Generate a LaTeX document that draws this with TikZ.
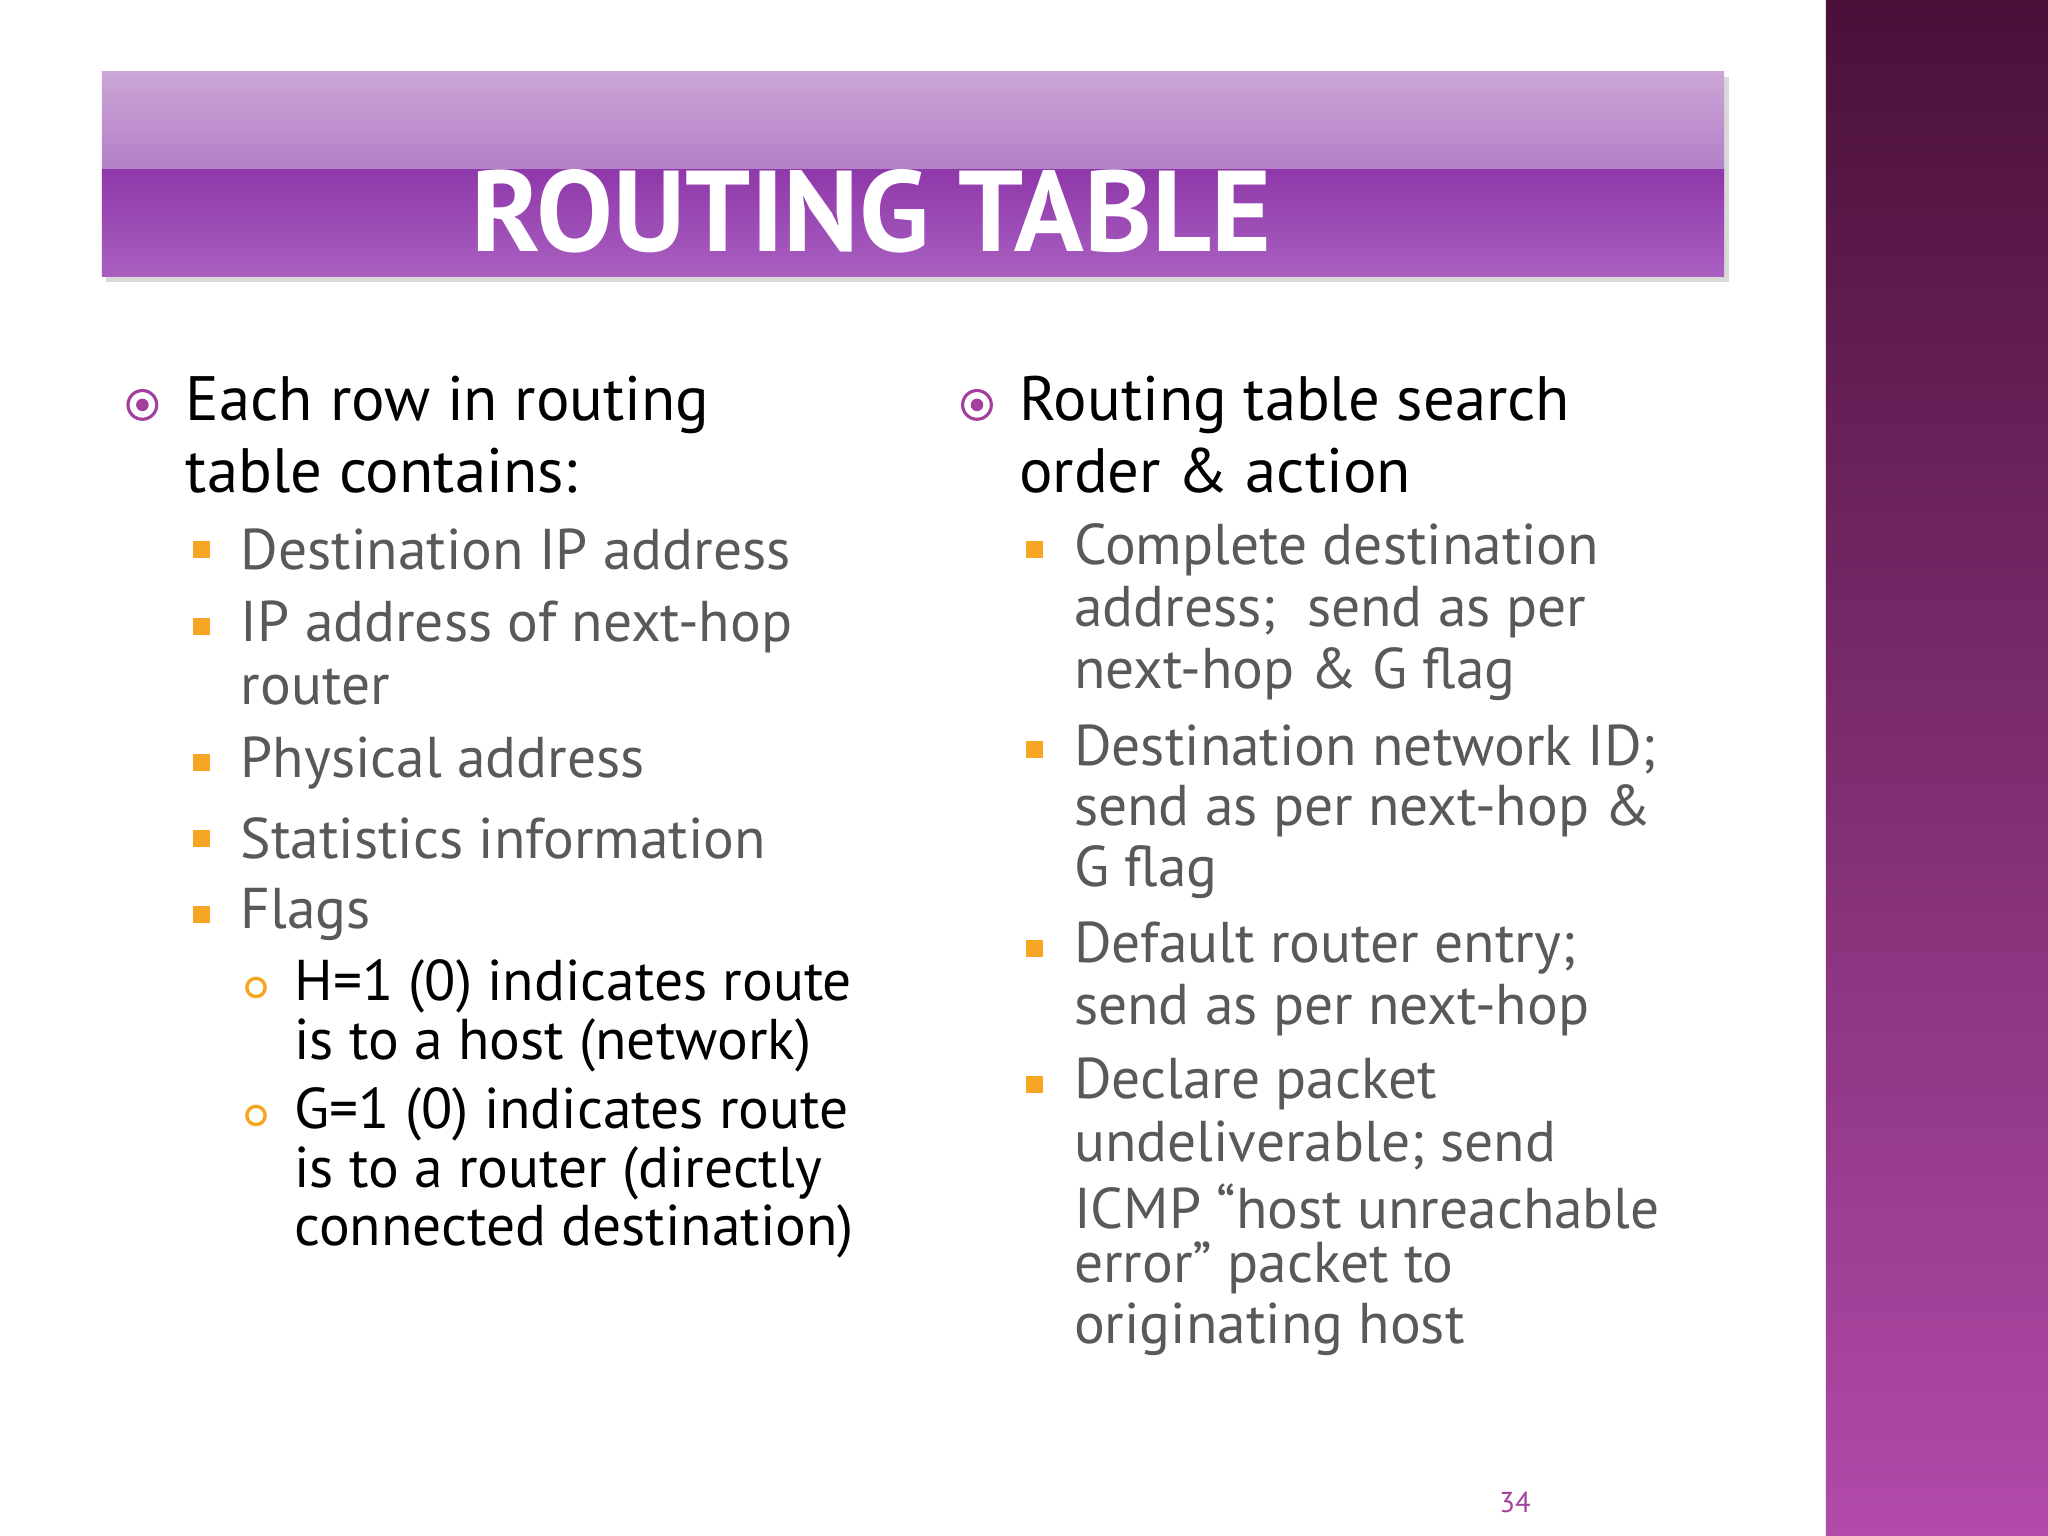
\documentclass[tikz,border=0pt]{standalone}
\usepackage{fontspec}
\setmainfont{PT Sans}
\definecolor{bandtop}{HTML}{4A1038}
\definecolor{bandbot}{HTML}{B24AAA}
\definecolor{bulmag}{HTML}{A3409E}
\definecolor{bartop}{HTML}{CBA6D6}
\definecolor{barmid}{HTML}{B47FC8}
\definecolor{barlow}{HTML}{8F38AA}
\definecolor{barbot}{HTML}{A95FC0}
\definecolor{sqor}{HTML}{F6A623}
\definecolor{txgray}{HTML}{595959}
\begin{document}
\begin{tikzpicture}[x=0.5pt,y=-0.5pt,
  lone/.style={anchor=west,inner sep=0pt,font=\fontsize{24}{27}\selectfont,text=black},
  ltwo/.style={anchor=west,inner sep=0pt,font=\fontsize{22}{25}\selectfont,text=txgray},
  lthree/.style={anchor=west,inner sep=0pt,font=\fontsize{22}{25}\selectfont,text=black},
  bone/.style={circle,draw=bulmag,line width=1.2pt,minimum size=11pt,inner sep=0pt,
    path picture={\fill[bulmag] (path picture bounding box.center) circle (2.4pt);}},
  btwo/.style={fill=sqor,minimum size=6.5pt,inner sep=0pt},
  bthree/.style={circle,draw=sqor,line width=1.3pt,minimum size=7pt,inner sep=0pt}]
\useasboundingbox (0,0) rectangle (1568,1176);
\fill[white] (0,0) rectangle (1568,1176);
\shade[top color=bandtop, bottom color=bandbot] (1398,0) rectangle (1568,1176);
\fill[black!15] (81,59) rectangle (1324,216);
\shade[top color=bartop, bottom color=barmid] (78,55) rectangle (1320,130);
\shade[top color=barlow, bottom color=barbot] (78,130) rectangle (1320,212);
\node[inner sep=0pt,text=white,font=\fontsize{44}{50}\bfseries\selectfont] (title) at (667,162) {ROUTING TABLE};
% left
\node[bone] (b1) at (109,310) {};
\node[lone] (l1) at (142,310) {Each row in routing};
\node[lone] (l2) at (142,360) {table contains:};
\node[btwo] (s1) at (154,421) {}; \node[ltwo] (t1) at (184,421) {Destination IP address};
\node[btwo] (s2) at (154,480) {}; \node[ltwo] (t2) at (184,480) {IP address of next-hop};
\node[ltwo] (t3) at (184,526) {router};
\node[btwo] (s3) at (154,584) {}; \node[ltwo] (t4) at (184,584) {Physical address};
\node[btwo] (s4) at (154,642) {}; \node[ltwo] (t5) at (184,642) {Statistics information};
\node[btwo] (s5) at (154,700) {}; \node[ltwo] (t6) at (184,700) {Flags};
\node[bthree] (c1) at (196,756) {}; \node[lthree] (u1) at (225,755) {H=1 (0) indicates route};
\node[lthree] (u2) at (225,800) {is to a host (network)};
\node[bthree] (c2) at (196,854) {}; \node[lthree] (u3) at (225,853) {G=1 (0) indicates route};
\node[lthree] (u4) at (225,898) {is to a router (directly};
\node[lthree] (u5) at (225,943) {connected destination)};
% right
\node[bone] (b2) at (748,310) {};
\node[lone] (r1) at (780,310) {Routing table search};
\node[lone] (r2) at (780,360) {order \& action};
\node[btwo] (q1) at (792,421) {};
\node[ltwo] (v1) at (822,421) {Complete destination};
\node[ltwo] (v2) at (822,469) {address;\ \ send as per};
\node[ltwo] (v3) at (822,516) {next-hop \& G flag};
\node[btwo] (q2) at (792,574) {};
\node[ltwo] (v4) at (822,574) {Destination network ID;};
\node[ltwo] (v5) at (822,621) {send as per next-hop \&};
\node[ltwo] (v6) at (822,668) {G flag};
\node[btwo] (q3) at (792,726) {};
\node[ltwo] (v7) at (822,726) {Default router entry;};
\node[ltwo] (v8) at (822,773) {send as per next-hop};
\node[btwo] (q4) at (792,830) {};
\node[ltwo] (v9) at (822,830) {Declare packet};
\node[ltwo] (v10) at (822,877) {undeliverable; send};
\node[ltwo] (v11) at (822,924) {ICMP “host unreachable};
\node[ltwo] (v12) at (822,971) {error” packet to};
\node[ltwo] (v13) at (822,1018) {originating host};
\node[inner sep=0pt,text=bulmag,font=\fontsize{11}{13}\selectfont] (pg) at (1160,1150) {34};
\end{tikzpicture}
\end{document}
